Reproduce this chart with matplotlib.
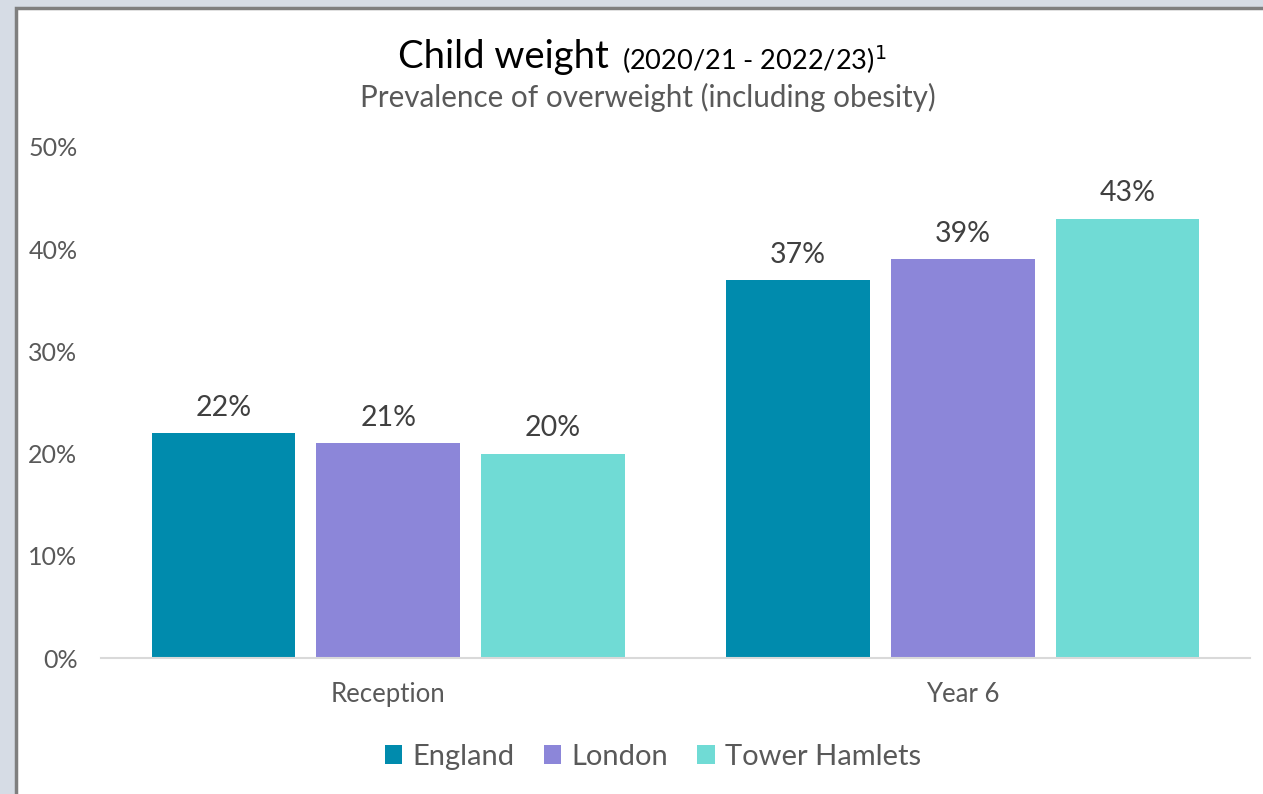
import matplotlib
matplotlib.use("Agg")
import matplotlib.pyplot as plt
from matplotlib.patches import Rectangle
import numpy as np

categories = ["Reception", "Year 6"]
series_names = ["England", "London", "Tower Hamlets"]
england = [0.22, 0.37]
london = [0.21, 0.39]
tower_hamlets = [0.20, 0.43]
yticks = [0, 0.1, 0.2, 0.3, 0.4, 0.5]
colors = ["#008BAD", "#8C86D9", "#70DBD5"]

plt.rcParams['font.family'] = ['Lato', 'DejaVu Sans']

W, H = 1263, 794
fig = plt.figure(figsize=(W/100, H/100), dpi=100)
fig.patch.set_facecolor("#D6DCE5")
fig.patches.append(Rectangle((16/W, -0.1), 1.2, (794-8)/H + 0.1, transform=fig.transFigure,
                             facecolor="white", edgecolor="#7F7F7F", linewidth=2.5, zorder=0))

ax = fig.add_axes([101/W, 1-658/H, (1250-101)/W, (658-147)/H])
ax.set_zorder(3)
ax.set_facecolor("none")
x = np.arange(len(categories))
bw = 0.25
step = 0.2865
for i, (vals, name) in enumerate(zip([england, london, tower_hamlets], series_names)):
    pos = x + (i-1)*step
    ax.bar(pos, vals, width=bw, color=colors[i], label=name, zorder=2)
    for p, v in zip(pos, vals):
        ax.text(p, v + 0.012, f"{round(v*100)}%", ha="center", va="bottom",
                fontsize=20.5, color="#404040")

ax.set_xlim(-0.5, 1.5)
ax.set_ylim(0, 0.5)
ax.set_yticks(yticks)
ax.set_yticklabels([f"{int(round(t*100))}%" for t in yticks], fontsize=18, color="#595959")
ax.set_xticks(x)
ax.set_xticklabels(categories, fontsize=18.5, color="#595959")
ax.tick_params(axis="both", length=0)
ax.tick_params(axis="y", pad=17)
ax.tick_params(axis="x", pad=17)
for s in ["top", "right", "left"]:
    ax.spines[s].set_visible(False)
ax.spines["bottom"].set_color("#D9D9D9")
ax.spines["bottom"].set_linewidth(1.5)

fig.text(398/W, 1-57/H, "Child weight", fontsize=27.5, ha="left", va="center", color="black", zorder=5)
fig.text(622/W, 1-60/H, r"(2020/21 - 2022/23)$^{1}$", fontsize=19.5, ha="left", va="center",
         color="black", zorder=5)
fig.text(648/W, 1-97/H, "Prevalence of overweight (including obesity)", fontsize=21.3,
         ha="center", va="center", color="#595959", zorder=5)

leg = fig.legend(loc="center", bbox_to_anchor=(653/W, 1-757/H), ncol=3, frameon=False,
                 fontsize=21, handlelength=0.6, handleheight=0.6, handletextpad=0.35,
                 columnspacing=1.0, labelcolor="#595959")
leg.set_zorder(5)

fig.savefig("out.png", dpi=100)
